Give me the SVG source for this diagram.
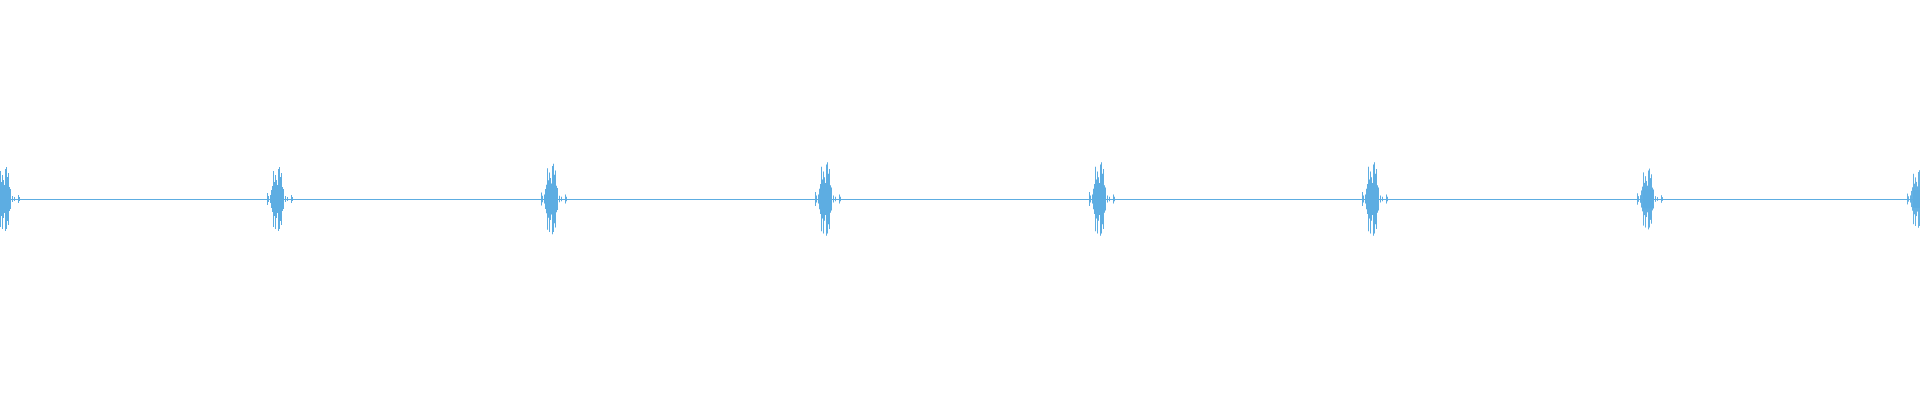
<svg xmlns="http://www.w3.org/2000/svg" width="1920" height="400" viewBox="0 0 1920 400">
<style>.w{stroke:#5dade2;stroke-width:1;fill:none}.b{fill:#5dade2}</style>
<defs>
<g id="burst">
<rect class="b" x="-5" y="-10" width="11" height="20"/>
<path class="w" d="M-10.5 -6V6M-9.5 -3V3M-7.5 -4V4M-6.5 -9V9M-5.5 -13V13M-4.5 -28V28M-3.5 -17V17M-2.5 -24V30M-1.5 -19V19M-0.5 -14V14M0.5 -30V32M1.5 -32V30M2.5 -22V22M3.5 -26V26M4.5 -12V12M5.5 -7V7M7.5 -3V3M9.5 -2V2M13.5 -4V4M14.5 -2V2"/>
</g>
</defs>
<g id="connectors">
<path class="w" d="M0 199.5H1920"/>
</g>
<g id="bursts">
<use href="#burst" transform="translate(5 199)"/>
<use href="#burst" transform="translate(278 199)"/>
<use href="#burst" transform="translate(552 199) scale(1 1.1)"/>
<use href="#burst" transform="translate(826 199) scale(1 1.15)"/>
<use href="#burst" transform="translate(1100 199) scale(1 1.15)"/>
<use href="#burst" transform="translate(1373 199) scale(1 1.15)"/>
<use href="#burst" transform="translate(1648 199) scale(1 0.95)"/>
<use href="#burst" transform="translate(1918 199) scale(1 0.9)"/>
</g>
</svg>
